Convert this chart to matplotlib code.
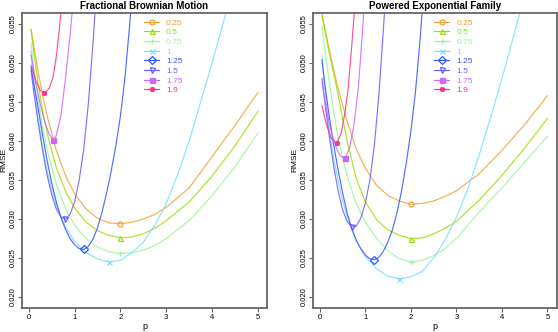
import matplotlib
matplotlib.use("Agg")
import matplotlib.pyplot as plt
import numpy as np

plt.rcParams['font.family'] = ['Liberation Sans', 'DejaVu Sans']

labels = ["0.25", "0.5", "0.75", "1", "1.25", "1.5", "1.75", "1.9"]
colors = ["#F5A030", "#99E000", "#99F599", "#77DDFF", "#3355FF", "#6A5CFF", "#CC66FF", "#FF3388"]
markers = ["o", "^", "+", "x", "D", "v", "s", (8, 2, 0)]
filled = [False, False, True, True, False, False, True, True]

# ---- Fractional Brownian Motion ----
fbm_p025 = [0.05, 0.1, 0.2, 0.3, 0.4, 0.6, 0.8, 1.0, 1.25, 1.5, 1.75, 2.0, 2.25, 2.5, 2.75, 3.0, 3.5, 4.0, 4.5, 5.0]
fbm_v025 = [0.0543, 0.0525, 0.0490, 0.0460, 0.0432, 0.0388, 0.0356, 0.0332, 0.0313, 0.0301, 0.0295, 0.0294, 0.0296, 0.0300, 0.0306, 0.0315, 0.0340, 0.0380, 0.0420, 0.0462]
fbm_p05 = [0.05, 0.1, 0.2, 0.3, 0.4, 0.6, 0.8, 1.0, 1.25, 1.5, 1.75, 2.0, 2.25, 2.5, 2.75, 3.0, 3.5, 4.0, 4.5, 5.0]
fbm_v05 = [0.0542, 0.0518, 0.0475, 0.0440, 0.0410, 0.0366, 0.0336, 0.0314, 0.0296, 0.0285, 0.0279, 0.0276, 0.0277, 0.0281, 0.0288, 0.0298, 0.0322, 0.0355, 0.0394, 0.0438]
fbm_p075 = [0.05, 0.1, 0.2, 0.3, 0.4, 0.6, 0.8, 1.0, 1.25, 1.5, 1.75, 2.0, 2.25, 2.5, 2.75, 3.0, 3.5, 4.0, 4.5, 5.0]
fbm_v075 = [0.0525, 0.0497, 0.0455, 0.0418, 0.0388, 0.0345, 0.0314, 0.0292, 0.0275, 0.0264, 0.0258, 0.0256, 0.0257, 0.0260, 0.0266, 0.0275, 0.0298, 0.0330, 0.0367, 0.0410]
fbm_p1 = [0.05, 0.1, 0.2, 0.3, 0.4, 0.5, 0.6, 0.8, 1.0, 1.25, 1.5, 1.75, 2.0, 2.25, 2.5, 2.75, 3.0, 3.25, 3.5, 3.75, 4.0, 4.25, 4.5]
fbm_v1 = [0.0515, 0.0482, 0.0432, 0.0393, 0.0362, 0.0338, 0.0318, 0.0290, 0.0271, 0.0257, 0.0249, 0.0245, 0.0247, 0.0257, 0.0270, 0.0292, 0.0320, 0.0357, 0.0400, 0.0450, 0.0500, 0.0553, 0.0606]
fbm_p125 = [0.05, 0.1, 0.2, 0.3, 0.4, 0.5, 0.6, 0.7, 0.8, 0.9, 1.0, 1.1, 1.2, 1.3, 1.4, 1.5, 1.6, 1.7, 1.8, 1.9, 2.0, 2.1, 2.2, 2.3]
fbm_v125 = [0.0494, 0.0476, 0.0444, 0.0408, 0.0375, 0.0346, 0.0322, 0.0302, 0.0287, 0.0275, 0.0267, 0.0262, 0.0261, 0.0265, 0.0274, 0.0289, 0.0309, 0.0334, 0.0362, 0.0394, 0.0432, 0.0482, 0.0548, 0.0625]
fbm_p15 = [0.05, 0.1, 0.2, 0.3, 0.4, 0.5, 0.6, 0.7, 0.8, 0.9, 1.0, 1.1, 1.2, 1.3, 1.4, 1.5]
fbm_v15 = [0.0490, 0.0467, 0.0425, 0.0388, 0.0356, 0.0331, 0.0313, 0.0303, 0.0300, 0.0306, 0.0322, 0.0350, 0.0390, 0.0448, 0.0525, 0.0612]
fbm_p175 = [0.05, 0.15, 0.25, 0.35, 0.45, 0.53, 0.6, 0.7, 0.8, 0.9, 1.0]
fbm_v175 = [0.0510, 0.0475, 0.0447, 0.0424, 0.0408, 0.0401, 0.0407, 0.0432, 0.0480, 0.0535, 0.0600]
fbm_p19 = [0.05, 0.15, 0.25, 0.34, 0.45, 0.53, 0.6, 0.66, 0.72, 0.78]
fbm_v19 = [0.0497, 0.0478, 0.0465, 0.0461, 0.0468, 0.0482, 0.0508, 0.0540, 0.0575, 0.0615]

# ---- Powered Exponential Family ----
pef_p025 = [0.05, 0.1, 0.2, 0.3, 0.4, 0.6, 0.8, 1.0, 1.25, 1.5, 1.75, 2.0, 2.25, 2.5, 2.75, 3.0, 3.5, 4.0, 4.5, 5.0]
pef_v025 = [0.0562, 0.0548, 0.0520, 0.0493, 0.0468, 0.0425, 0.0390, 0.0365, 0.0343, 0.0330, 0.0323, 0.0319, 0.0320, 0.0323, 0.0329, 0.0336, 0.0358, 0.0388, 0.0421, 0.0458]
pef_p05 = [0.05, 0.1, 0.2, 0.3, 0.4, 0.6, 0.8, 1.0, 1.25, 1.5, 1.75, 2.0, 2.25, 2.5, 2.75, 3.0, 3.5, 4.0, 4.5, 5.0]
pef_v05 = [0.0560, 0.0545, 0.0515, 0.0488, 0.0460, 0.0400, 0.0352, 0.0322, 0.0299, 0.0286, 0.0279, 0.0275, 0.0276, 0.0281, 0.0288, 0.0297, 0.0324, 0.0356, 0.0391, 0.0429]
pef_p075 = [0.05, 0.1, 0.2, 0.3, 0.4, 0.6, 0.8, 1.0, 1.25, 1.5, 1.75, 2.0, 2.25, 2.5, 2.75, 3.0, 3.5, 4.0, 4.5, 5.0]
pef_v075 = [0.0547, 0.0522, 0.0480, 0.0440, 0.0405, 0.0355, 0.0320, 0.0296, 0.0275, 0.0259, 0.0249, 0.0245, 0.0247, 0.0253, 0.0262, 0.0275, 0.0309, 0.0340, 0.0373, 0.0406]
pef_p1 = [0.05, 0.1, 0.2, 0.3, 0.4, 0.5, 0.6, 0.8, 1.0, 1.25, 1.5, 1.75, 2.0, 2.25, 2.5, 2.75, 3.0, 3.25, 3.5, 3.75, 4.0, 4.25, 4.5]
pef_v1 = [0.0509, 0.0472, 0.0420, 0.0380, 0.0350, 0.0324, 0.0303, 0.0272, 0.0252, 0.0236, 0.0227, 0.0223, 0.0226, 0.0233, 0.0250, 0.0273, 0.0302, 0.0338, 0.0382, 0.0430, 0.0480, 0.0533, 0.0588]
pef_p125 = [0.05, 0.1, 0.2, 0.3, 0.4, 0.5, 0.6, 0.7, 0.8, 0.9, 1.0, 1.1, 1.2, 1.3, 1.4, 1.5, 1.6, 1.7, 1.8, 1.9, 2.0, 2.1, 2.2, 2.3]
pef_v125 = [0.0504, 0.0478, 0.0435, 0.0397, 0.0364, 0.0334, 0.0308, 0.0288, 0.0273, 0.0262, 0.0254, 0.0249, 0.0248, 0.0251, 0.0259, 0.0271, 0.0287, 0.0309, 0.0337, 0.0372, 0.0412, 0.0462, 0.0528, 0.0605]
pef_p15 = [0.05, 0.1, 0.2, 0.3, 0.4, 0.5, 0.6, 0.7, 0.8, 0.9, 1.0, 1.1, 1.2, 1.3, 1.4, 1.5]
pef_v15 = [0.0480, 0.0455, 0.0410, 0.0370, 0.0337, 0.0312, 0.0297, 0.0290, 0.0291, 0.0301, 0.0320, 0.0350, 0.0395, 0.0460, 0.0545, 0.0640]
pef_p175 = [0.05, 0.15, 0.25, 0.35, 0.45, 0.55, 0.65, 0.75, 0.85, 0.95, 1.0]
pef_v175 = [0.0475, 0.0440, 0.0412, 0.0393, 0.0381, 0.0378, 0.0390, 0.0420, 0.0470, 0.0550, 0.0600]
pef_p19 = [0.05, 0.15, 0.25, 0.37, 0.47, 0.55, 0.62, 0.7, 0.78]
pef_v19 = [0.0445, 0.0420, 0.0404, 0.0397, 0.0410, 0.0435, 0.0465, 0.0520, 0.0580]

panels = [
    ("Fractional Brownian Motion",
     [fbm_p025, fbm_p05, fbm_p075, fbm_p1, fbm_p125, fbm_p15, fbm_p175, fbm_p19],
     [fbm_v025, fbm_v05, fbm_v075, fbm_v1, fbm_v125, fbm_v15, fbm_v175, fbm_v19]),
    ("Powered Exponential Family",
     [pef_p025, pef_p05, pef_p075, pef_p1, pef_p125, pef_p15, pef_p175, pef_p19],
     [pef_v025, pef_v05, pef_v075, pef_v1, pef_v125, pef_v15, pef_v175, pef_v19]),
]

x_ticks = [0, 1, 2, 3, 4, 5]
y_ticks = [0.020, 0.025, 0.030, 0.035, 0.040, 0.045, 0.050, 0.055]
y_ticklabels = ["0.020", "0.025", "0.030", "0.035", "0.040", "0.045", "0.050", "0.055"]

W, H = 558, 332
fig = plt.figure(figsize=(W / 100, H / 100), dpi=100)
boxes = [(22, 13, 267, 308), (313, 13, 556.5, 308)]
frame_col = "#666666"

for (title, ps, vs), (x0, y0, x1, y1) in zip(panels, boxes):
    aw = x1 - x0
    ax = fig.add_axes([x0 / W, 1 - y1 / H, aw / W, (y1 - y0) / H])
    handles = []
    for i in range(len(labels)):
        p = np.array(ps[i]); v = np.array(vs[i])
        ax.plot(p, v, color=colors[i], lw=0.85, alpha=0.85, solid_joinstyle='round')
        k = int(np.argmin(v))
        mfc = colors[i] if filled[i] else 'none'
        ax.plot([p[k]], [v[k]], linestyle='none', marker=markers[i], ms=3.6,
                mec=colors[i], mfc=mfc, mew=0.9)
        h, = ax.plot([], [], color=colors[i], lw=0.85, marker=markers[i], ms=3.6,
                     mec=colors[i], mfc=mfc, mew=0.9)
        handles.append(h)
    ax.set_xlim(-0.148, 5.198)
    ax.set_ylim(0.0186, 0.0564)
    ax.set_xticks(x_ticks)
    ax.set_yticks(y_ticks)
    ax.set_yticklabels(y_ticklabels, rotation=90, va='center')
    ax.tick_params(axis='both', labelsize=5.5, length=3, width=0.8, color=frame_col, pad=1)
    for s in ax.spines.values():
        s.set_color(frame_col)
        s.set_linewidth(1.3)
    ax.set_title(title, fontsize=7, fontweight='bold', pad=3)
    ax.set_xlabel("p", fontsize=6.5, labelpad=1)
    ax.set_ylabel("RMSE", fontsize=6)
    ax.yaxis.set_label_coords(-14.5 / aw, 0.5)
    ax.legend(handles, labels, loc='upper left', bbox_to_anchor=(0.475, 1.0),
              frameon=False, fontsize=6, handlelength=1.8, handletextpad=0.8,
              labelspacing=0.22, borderaxespad=0.3, labelcolor='linecolor')

fig.savefig("out.png", dpi=100)
